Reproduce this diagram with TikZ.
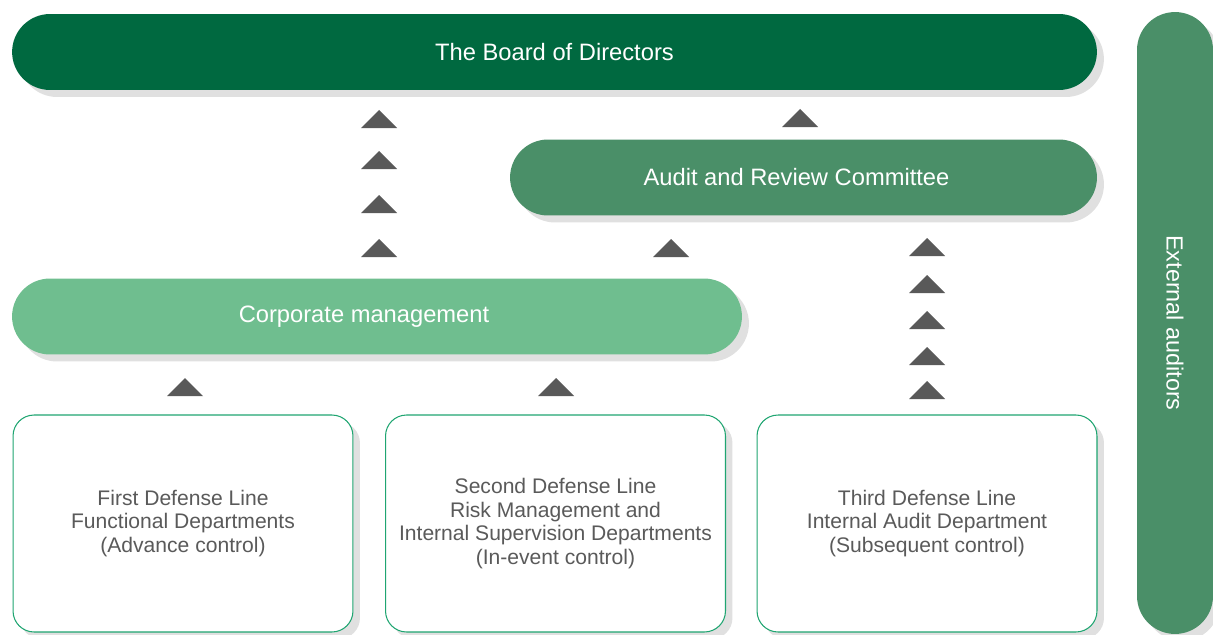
\documentclass[tikz,border=0pt]{standalone}
\usepackage{fontspec}
\setmainfont{Liberation Sans}
\usetikzlibrary{shadows}
\usetikzlibrary{positioning}
\definecolor{boardgreen}{RGB}{0,105,64}
\definecolor{auditgreen}{RGB}{74,143,104}
\definecolor{mgmtgreen}{RGB}{111,190,143}
\definecolor{lineborder}{RGB}{31,165,113}
\definecolor{tricolor}{RGB}{89,89,89}
\definecolor{boxtext}{RGB}{90,90,90}
\tikzstyle{softshadow}=[drop shadow={shadow xshift=0.14cm,shadow yshift=-0.14cm,fill=black!12,opacity=1}]
\tikzstyle{pill}=[rectangle,rounded corners=0.76cm,minimum height=1.52cm,inner sep=0pt,text=white,font=\fontsize{13.5}{16}\selectfont,softshadow]
\tikzstyle{linebox}=[rectangle,rounded corners=0.42cm,draw=lineborder,line width=0.6pt,fill=white,minimum width=6.8cm,minimum height=4.34cm,align=center,text=boxtext,font=\fontsize{12}{13.6}\selectfont,softshadow]
\tikzstyle{uptri}=[fill=tricolor]

\begin{document}
\begin{tikzpicture}[x=0.02cm, y=-0.02cm]

   \useasboundingbox (0,0) rectangle (1213,635);

   % upper levels
   \node[pill,fill=boardgreen,minimum width=21.7cm] (board) at (554.5,52) {The Board of Directors};
   \node[pill,fill=auditgreen,minimum width=11.74cm] (audit) at (803.5,177.5) {\hspace*{-0.28cm}Audit and Review Committee};
   \node[pill,fill=mgmtgreen,minimum width=14.6cm] (corp) at (377,316.5) {\hspace*{-0.52cm}Corporate management};

   % the three lines of defense
   \node[linebox] (first) at (183,523.5) {First Defense Line\\Functional Departments\\(Advance control)};
   \node[linebox] (second) at (555.5,523.5) {Second Defense Line\\Risk Management and\\Internal Supervision Departments\\(In-event control)};
   \node[linebox] (third) at (927,523.5) {Third Defense Line\\Internal Audit Department\\(Subsequent control)};

   \node[pill,fill=auditgreen,rotate=-90,minimum width=12.44cm,font=\fontsize{13.3}{16}\selectfont] (ext) at (1175,323) {External auditors};

   \foreach \px/\py in {379/119, 379/160, 379/204, 379/248, 800/118, 671/248,
                        927/247, 927/284, 927/320, 927/356, 927/390, 185/387, 556/387}
        \fill[uptri] (\px-18,\py+9) -- (\px+18,\py+9) -- (\px,\py-9) -- cycle;

\end{tikzpicture}
\end{document}
